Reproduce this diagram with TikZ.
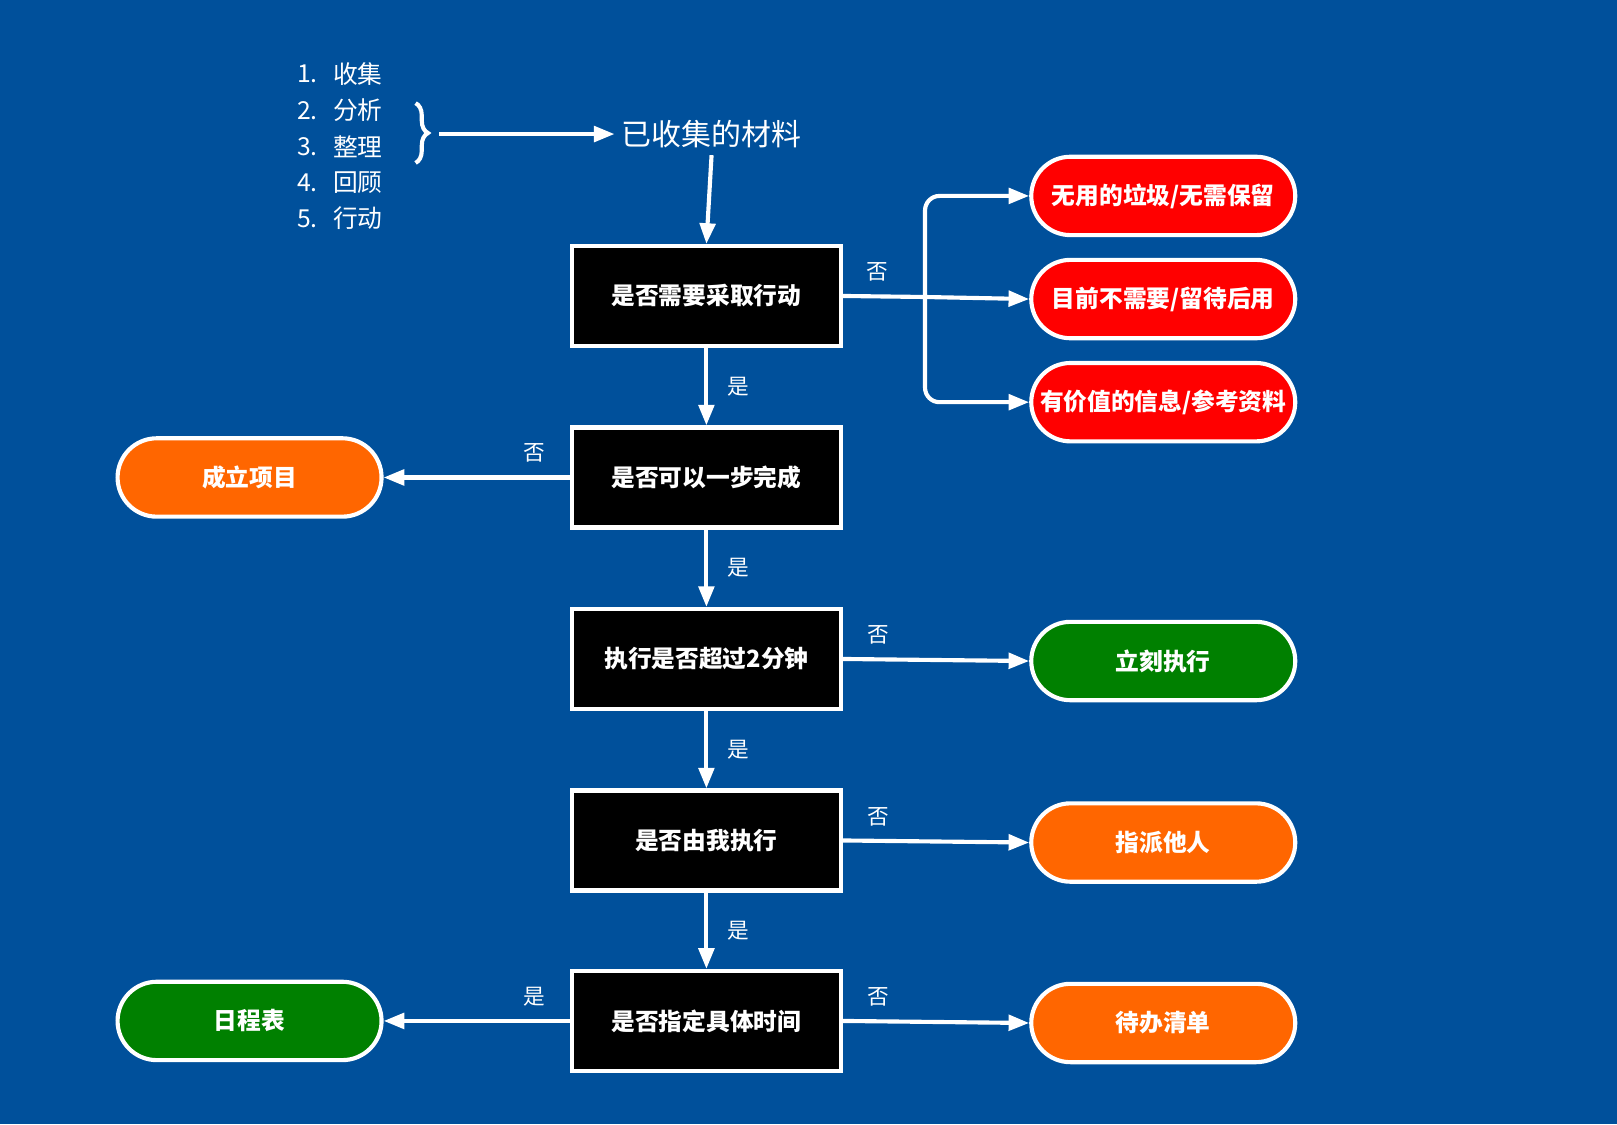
\documentclass[tikz,border=0pt]{standalone}
\usepackage{fontspec}
\setmainfont{Noto Sans CJK SC}
\usetikzlibrary{arrows.meta,decorations.pathreplacing}
\definecolor{bgblue}{RGB}{0,80,155}
\definecolor{endred}{RGB}{255,0,0}
\definecolor{endorange}{RGB}{255,102,0}
\definecolor{endgreen}{RGB}{0,128,0}

\begin{document}
\begin{tikzpicture}[x=0.5pt, y=-0.5pt,
    question/.style={draw=white, line width=2pt, fill=black, text=white, minimum width=130.5pt, minimum height=48.5pt, inner sep=0pt, font=\bfseries\fontsize{11.5}{12}\selectfont},
    outcome/.style={draw=white, line width=2pt, rounded corners=19pt, minimum width=128pt, minimum height=38pt, inner sep=0pt, text=white, font=\bfseries\fontsize{11.5}{12}\selectfont},
    flow/.style={draw=white, line width=2pt, -{Triangle[length=10pt,width=7.5pt]}},
    answer/.style={text=white, font=\fontsize{10.5}{10.5}\selectfont},
    stepitem/.style={text=white, anchor=west, font=\fontsize{12}{12}\selectfont}]
        \fill[bgblue] (0,0) rectangle (1568,1090);
        \useasboundingbox (0,0) rectangle (1568,1090);
        % the five steps
        \foreach \n/\w [count=\i] in {1/收集,2/分析,3/整理,4/回顾,5/行动}{
            \node[stepitem] (num\i) at (281, 37+35*\i) {\n.};
            \node[stepitem] (item\i) at (316, 37+35*\i) {\w};
        }
        \draw[white, line width=2pt, decorate, decoration={brace, amplitude=6pt}] (403,100) -- (403,158);
        \coordinate (bracetip) at (426,130);
        \node[text=white, font=\fontsize{14.5}{15}\selectfont] (material) at (690,130) {已收集的材料};
        \draw[flow] (bracetip) -- (material.west);
        % questions
        \node[question] (q1) at (685,287) {是否需要采取行动};
        \node[question] (q2) at (685,463) {是否可以一步完成};
        \node[question] (q3) at (685,639) {执行是否超过2分钟};
        \node[question] (q4) at (685,815) {是否由我执行};
        \node[question] (q5) at (685,990) {是否指定具体时间};
        % outcomes
        \node[outcome, fill=endred] (trash) at (1128,190) {无用的垃圾/无需保留};
        \node[outcome, fill=endred] (later) at (1128,290) {目前不需要/留待后用};
        \node[outcome, fill=endred] (reference) at (1128,390) {有价值的信息/参考资料};
        \node[outcome, fill=endorange] (project) at (242,463) {成立项目};
        \node[outcome, fill=endgreen] (doit) at (1128,641) {立刻执行};
        \node[outcome, fill=endorange] (delegate) at (1128,817) {指派他人};
        \node[outcome, fill=endgreen] (calendar) at (242,990) {日程表};
        \node[outcome, fill=endorange] (todo) at (1128,992) {待办清单};
        % connectors
        \draw[flow] (material.south) -- (q1.north);
        \coordinate (split) at (897,288);
        \draw[white, line width=2pt] (q1.east) -- node[answer, above=3pt, pos=0.42] {否} (split);
        \draw[flow, rounded corners=7pt] (split) |- (trash.west);
        \draw[flow] (split) -- (later.west);
        \draw[flow, rounded corners=7pt] (split) |- (reference.west);
        \foreach \a/\b in {q1/q2,q2/q3,q3/q4,q4/q5}
            \draw[flow] (\a.south) -- node[answer, right=6pt] {是} (\b.north);
        \draw[flow] (q2.west) -- node[answer, above=3pt, pos=0.19] {否} (project.east);
        \draw[flow] (q3.east) -- node[answer, above=3pt, pos=0.19] {否} (doit.west);
        \draw[flow] (q4.east) -- node[answer, above=3pt, pos=0.19] {否} (delegate.west);
        \draw[flow] (q5.west) -- node[answer, above=3pt, pos=0.19] {是} (calendar.east);
        \draw[flow] (q5.east) -- node[answer, above=3pt, pos=0.19] {否} (todo.west);
    \end{tikzpicture}
\end{document}
